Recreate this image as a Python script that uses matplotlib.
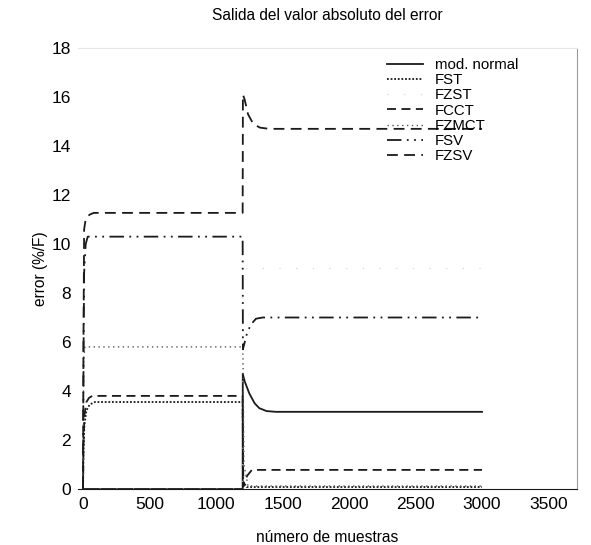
import numpy as np
import matplotlib
matplotlib.use("Agg")
import matplotlib.pyplot as plt

plt.rcParams['font.family'] = ['Liberation Sans', 'DejaVu Sans']

# breakpoints (muestra, error %/F)
t_normal = [0, 1200, 1201, 1215, 1250, 1290, 1325, 1380, 1450, 3000]
v_normal = [0, 0, 4.7, 4.4, 3.9, 3.5, 3.3, 3.18, 3.15, 3.15]

t_fst = [0, 3, 10, 25, 50, 90, 1200, 1204, 1230, 3000]
v_fst = [0, 1.5, 2.6, 3.2, 3.45, 3.55, 3.55, 0.3, 0.08, 0.08]

t_fzst = [0, 1200, 1202, 3000]
v_fzst = [0, 0, 9.0, 9.0]

t_fcct = [0, 3, 10, 25, 45, 70, 1200, 1203, 1206, 1212, 1235, 1270, 3000]
v_fcct = [0, 1.8, 3.0, 3.55, 3.72, 3.8, 3.8, 1.1, 0.1, 0.3, 0.55, 0.78, 0.78]

t_fzmct = [0, 2, 6, 15, 1200, 1203, 1210, 1240, 3000]
v_fzmct = [0, 3.5, 5.4, 5.8, 5.8, 5.2, 1.0, 0.12, 0.12]

t_fsv = [0, 3, 8, 20, 35, 1200, 1202, 1230, 1260, 1300, 1350, 1420, 3000]
v_fsv = [0, 5.0, 8.8, 10.0, 10.3, 10.3, 5.7, 6.3, 6.7, 6.95, 7.0, 7.0, 7.0]

t_fzsv = [0, 3, 8, 18, 30, 50, 80, 1200, 1202, 1215, 1240, 1280, 1330, 1400, 3000]
v_fzsv = [0, 6.0, 10.6, 10.95, 11.1, 11.2, 11.27, 11.27, 16.1, 15.9, 15.3, 14.9, 14.75, 14.7, 14.7]

x_ticks = [0, 500, 1000, 1500, 2000, 2500, 3000, 3500]
y_ticks = [0, 2, 4, 6, 8, 10, 12, 14, 16, 18]

ink = '#1a1a1a'

fig = plt.figure(figsize=(5.91, 5.45), dpi=100)
ax = fig.add_axes([78/591, 56/545, 499/591, 441/545])

ax.plot(t_normal, v_normal, color=ink, lw=1.3, ls='-', label='mod. normal')
ax.plot(t_fst, v_fst, color=ink, lw=1.3, ls=(0, (1, 1)), label='FST')
ax.plot(t_fzst, v_fzst, color='#d0d0d0', lw=0.8, ls=(0, (1, 14)), label='FZST')
ax.plot(t_fcct, v_fcct, color=ink, lw=1.3, ls=(0, (5, 3)), label='FCCT')
ax.plot(t_fzmct, v_fzmct, color='#555555', lw=1.0, ls=(0, (1, 2.5)), label='FZMCT')
ax.plot(t_fsv, v_fsv, color=ink, lw=1.3, ls=(0, (8, 3, 1, 3, 1, 3)), label='FSV')
ax.plot(t_fzsv, v_fzsv, color=ink, lw=1.3, ls=(0, (6, 3.5)), label='FZSV')

ax.set_xlim(-38, 3714)
ax.set_ylim(0, 18)
ax.set_xticks(x_ticks)
ax.set_yticks(y_ticks)
ax.tick_params(length=0, labelsize=12.5)
ax.tick_params(axis='x', pad=6)
ax.tick_params(axis='y', pad=5)

ax.spines['left'].set_visible(False)
ax.spines['top'].set_color('#e6e6e6')
ax.spines['right'].set_color('#9a9a9a')
ax.spines['bottom'].set_color(ink)

ax.set_title('Salida del valor absoluto del error', fontsize=11.2, pad=20)
ax.set_xlabel('número de muestras', fontsize=11.2, labelpad=13)
ax.set_ylabel('error (%/F)', fontsize=11.2, labelpad=3)

leg = ax.legend(loc='upper left', bbox_to_anchor=(387/591, 1 - 58/545),
                bbox_transform=fig.transFigure, frameon=False, fontsize=10.8,
                borderpad=0, borderaxespad=0, labelspacing=0.08,
                handlelength=2.4, handletextpad=0.8)

fig.savefig('out.png', dpi=100)
